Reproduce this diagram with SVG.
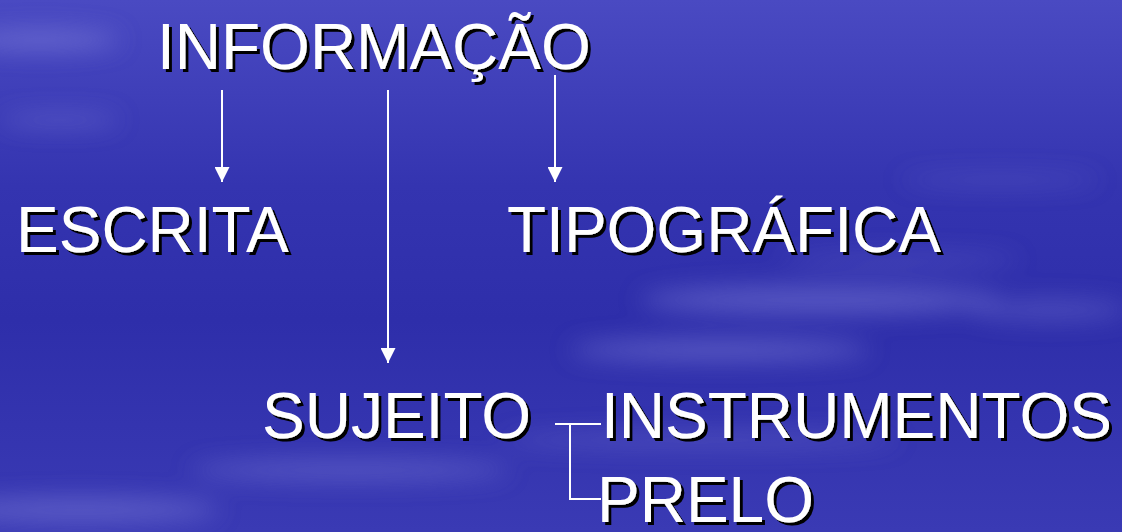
<svg xmlns="http://www.w3.org/2000/svg" width="1122" height="532" viewBox="0 0 1122 532">
<defs>
<linearGradient id="bg" x1="0" y1="0" x2="0" y2="1">
<stop offset="0" stop-color="#4a4ac2"/>
<stop offset="0.35" stop-color="#3434b0"/>
<stop offset="0.6" stop-color="#2e2eaa"/>
<stop offset="1" stop-color="#3a3ab4"/>
</linearGradient>
<filter id="blur" x="-50%" y="-50%" width="200%" height="200%"><feGaussianBlur stdDeviation="12"/></filter>
<filter id="shadow" x="-5%" y="-20%" width="110%" height="140%">
<feOffset in="SourceAlpha" dx="3" dy="3" result="o"/>
<feFlood flood-color="#000"/>
<feComposite in2="o" operator="in" result="s"/>
<feMerge><feMergeNode in="s"/><feMergeNode in="SourceGraphic"/></feMerge>
</filter>
<marker id="arr" viewBox="0 0 10 10" refX="10" refY="5" markerWidth="16" markerHeight="15" markerUnits="userSpaceOnUse" orient="auto">
<path d="M0,0 L10,5 L0,10 z" fill="#fff"/>
</marker>
<style>
.t{font-family:"Liberation Sans",Arial,sans-serif;font-size:64px;fill:#fff;filter:url(#shadow)}
.c{stroke:#fff;stroke-width:2;fill:none}
</style>
</defs>
<rect width="1122" height="532" fill="url(#bg)"/>
<g filter="url(#blur)" fill="#8a8ae0">
<ellipse cx="40" cy="40" rx="80" ry="10" opacity="0.5"/>
<ellipse cx="60" cy="120" rx="60" ry="6" opacity="0.4"/>
<ellipse cx="820" cy="300" rx="180" ry="14" opacity="0.45"/>
<ellipse cx="720" cy="350" rx="150" ry="10" opacity="0.5"/>
<ellipse cx="1050" cy="310" rx="80" ry="10" opacity="0.35"/>
<ellipse cx="900" cy="260" rx="120" ry="6" opacity="0.3"/>
<ellipse cx="350" cy="470" rx="160" ry="10" opacity="0.4"/>
<ellipse cx="80" cy="510" rx="140" ry="12" opacity="0.45"/>
<ellipse cx="700" cy="440" rx="200" ry="8" opacity="0.3"/>
<ellipse cx="1000" cy="180" rx="100" ry="6" opacity="0.25"/>
</g>
<g id="connectors">
<line class="c" x1="222" y1="90" x2="222" y2="182" marker-end="url(#arr)"/>
<line class="c" x1="388" y1="90" x2="388" y2="363" marker-end="url(#arr)"/>
<line class="c" x1="555" y1="75" x2="555" y2="182" marker-end="url(#arr)"/>
<polyline class="c" points="555,424 601,424"/>
<polyline class="c" points="570,424 570,499 601,499"/>
</g>
<g id="informacao"><text class="t" x="157" y="69">INFORMAÇÃO</text></g>
<g id="escrita"><text class="t" x="16" y="252">ESCRITA</text></g>
<g id="tipografica"><text class="t" x="507" y="252">TIPOGRÁFICA</text></g>
<g id="sujeito"><text class="t" x="262" y="438">SUJEITO</text></g>
<g id="instrumentos"><text class="t" x="601" y="438">INSTRUMENTOS</text></g>
<g id="prelo"><text class="t" x="597" y="522">PRELO</text></g>
</svg>
